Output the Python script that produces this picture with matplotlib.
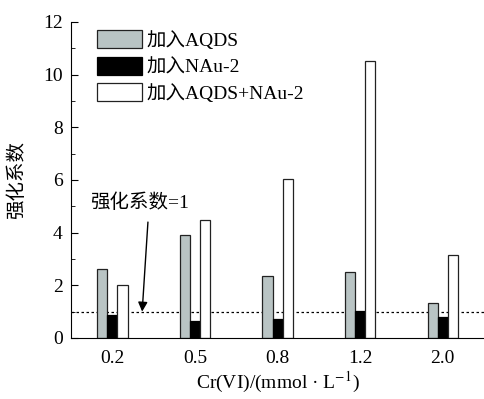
import numpy as np
import matplotlib.pyplot as plt

plt.rcParams['font.family'] = ['Liberation Serif', 'Noto Sans CJK SC']
plt.rcParams['mathtext.fontset'] = 'stix'

concs = ["0.2", "0.5", "0.8", "1.2", "2.0"]
aqds = [2.6, 3.9, 2.35, 2.5, 1.32]
nau2 = [0.88, 0.65, 0.72, 1.03, 0.78]
both = [2.02, 4.48, 6.05, 10.5, 3.15]
series_names = ["加入AQDS", "加入NAu-2", "加入AQDS+NAu-2"]


def main() -> None:
    fig = plt.figure(figsize=(4.84, 3.99), dpi=100)
    ax = fig.add_axes([0.147, 0.153, 0.853, 0.792])

    x = np.arange(len(concs))
    w = 0.122
    ax.bar(x - w, aqds, w, color="#b9c4c4", edgecolor="#222222", lw=0.9, label=series_names[0])
    ax.bar(x, nau2, w, color="black", edgecolor="black", lw=0.9, label=series_names[1])
    ax.bar(x + w, both, w, color="white", edgecolor="#222222", lw=0.9, label=series_names[2])

    ax.axhline(1, color="black", ls=(0, (2, 2)), lw=0.9, zorder=0)

    ax.set_xlim(-0.5, 4.5)
    ax.set_ylim(0, 12)
    ax.set_yticks(range(0, 13, 2))
    ax.set_yticks(range(1, 12, 2), minor=True)
    ax.set_xticks(x)
    ax.set_xticklabels(concs)
    ax.tick_params(axis="y", which="both", direction="in", labelsize=14, pad=6)
    ax.tick_params(axis="y", which="major", length=5)
    ax.tick_params(axis="y", which="minor", length=3)
    ax.tick_params(axis="x", length=0, labelsize=14, pad=9)
    for s in ["top", "right"]:
        ax.spines[s].set_visible(False)

    ax.set_ylabel("强化系数", fontsize=14)
    ax.yaxis.set_label_coords(-0.11, 0.5)
    ax.set_xlabel("Cr(VI)/(mmol · L$^{-1}$)", fontsize=14, labelpad=2)

    ax.text(0.33, 5.15, "强化系数=1", fontsize=14, ha="center", va="center")
    ax.annotate("", xy=(0.36, 1.0), xytext=(0.43, 4.4),
                arrowprops=dict(arrowstyle="-|>", color="black", lw=1,
                                shrinkA=0, shrinkB=0, mutation_scale=14))

    ax.legend(loc="upper left", bbox_to_anchor=(0.04, 1.005), frameon=False, fontsize=14,
              handlelength=2.3, handleheight=1.05, handletextpad=0.2, labelspacing=0.35,
              borderpad=0)

    fig.savefig("out.png", dpi=100)


if __name__ == "__main__":
    main()
